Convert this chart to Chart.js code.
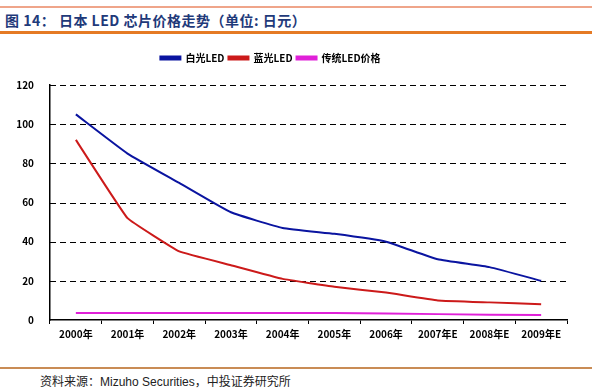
<!DOCTYPE html>
<html>
<head>
<meta charset="utf-8">
<script src="https://cdn.jsdelivr.net/npm/chart.js@4.4.0/dist/chart.umd.min.js"></script>
<style>
  body { margin: 0; background: #fff; width: 592px; height: 388px; position: relative; overflow: hidden; }
  .rule-top { position: absolute; left: 0; top: 6px; width: 592px; height: 2px; background: #EFA58A; }
  .title { position: absolute; left: 5px; top: 10px; font: bold 14px "Noto Sans CJK SC", sans-serif; color: #1F3A7A; letter-spacing: 0.5px; white-space: pre; }
  .rule-mid { position: absolute; left: 0; top: 31px; width: 592px; height: 3px; background: #E57A24; }
  .rule-bot { position: absolute; left: 0; top: 367px; width: 592px; height: 2px; background: #C98C55; }
  .source { position: absolute; left: 40px; top: 372px; font: 12px "Noto Sans CJK SC", sans-serif; color: #222; }
  .source span { font-family: "Liberation Sans", Arial, sans-serif; }
  #wrap { position: absolute; left: 0; top: 40px; width: 592px; height: 304px; }
</style>
</head>
<body>
<div class="rule-top"></div>
<div class="title">图 14： 日本 LED 芯片价格走势（单位: 日元）</div>
<div class="rule-mid"></div>
<div id="wrap"><canvas id="chart"></canvas></div>
<div class="rule-bot"></div>
<div class="source">资料来源：<span>Mizuho Securities</span>，中投证券研究所</div>
<script>
// Categories and series
const years = ['2000年', '2001年', '2002年', '2003年', '2004年', '2005年', '2006年', '2007年E', '2008年E', '2009年E'];
const whiteLed = [105, 85, 70, 55, 47, 44, 40, 31, 27, 20];
const blueLed = [92, 52, 35, 28, 21, 17, 14, 10, 9, 8];
const traditionalLed = [3.6, 3.6, 3.6, 3.6, 3.6, 3.6, 3.3, 3, 2.7, 2.5];
const yTicks = [0, 20, 40, 60, 80, 100, 120];

const tickFont = { family: '"Noto Sans CJK SC", sans-serif', size: 10, weight: 'bold' };

// dashed horizontal gridlines, placed with the y scale
const dashedGrid = {
    id: 'dashedGrid',
    beforeDatasetsDraw(chart) {
        const { ctx, chartArea, scales } = chart;
        ctx.save();
        ctx.strokeStyle = '#000';
        ctx.lineWidth = 1;
        ctx.setLineDash([6, 4]);
        yTicks.forEach(v => {
            if (v === 0) return;
            const y = Math.round(scales.y.getPixelForValue(v)) + 0.5;
            ctx.beginPath();
            ctx.moveTo(chartArea.left, y);
            ctx.lineTo(chartArea.right, y);
            ctx.stroke();
        });
        ctx.restore();
    }
};

// extra space under the legend, and legend nudged left
const legendGap = {
    id: 'legendGap',
    beforeInit(chart) {
        const fit = chart.legend.fit;
        chart.legend.fit = function() {
            fit.bind(chart.legend)();
            this.height += 12;
        };
    },
    afterLayout(chart) {
        chart.legend.right -= 26;
    }
};

new Chart(document.getElementById('chart'), {
    type: 'line',
    data: {
        labels: years,
        datasets: [
            { label: '白光LED', data: whiteLed, borderColor: '#0A14A0', backgroundColor: '#0A14A0', borderWidth: 2, pointRadius: 0, tension: 0.12 },
            { label: '蓝光LED', data: blueLed, borderColor: '#CC1A1A', backgroundColor: '#CC1A1A', borderWidth: 2, pointRadius: 0, tension: 0.08 },
            { label: '传统LED价格', data: traditionalLed, borderColor: '#E020D8', backgroundColor: '#E020D8', borderWidth: 2, pointRadius: 0, tension: 0 }
        ]
    },
    options: {
        responsive: true,
        maintainAspectRatio: false,
        animation: false,
        layout: { padding: { top: 9, right: 25, left: 0, bottom: 0 } },
        plugins: {
            legend: {
                labels: {
                    boxWidth: 20,
                    boxHeight: 3,
                    padding: 4,
                    color: '#000',
                    font: { family: '"Noto Sans CJK SC", sans-serif', size: 10, weight: 'bold' }
                }
            },
            tooltip: { enabled: false }
        },
        scales: {
            x: {
                offset: true,
                grid: { display: true, drawOnChartArea: false, offset: true, color: '#000', tickLength: 4 },
                border: { color: '#000', width: 1.5 },
                ticks: { color: '#000', font: tickFont, maxRotation: 0, autoSkip: false, padding: 4 }
            },
            y: {
                min: 0,
                max: 120,
                afterBuildTicks: scale => { scale.ticks = yTicks.map(v => ({ value: v })); },
                ticks: { color: '#000', font: tickFont, padding: 8 },
                grid: { display: false },
                border: { color: '#000', width: 1.5 },
                afterFit: function(scale) { scale.width = 50; }
            }
        }
    },
    plugins: [dashedGrid, legendGap]
});
</script>
</body>
</html>
